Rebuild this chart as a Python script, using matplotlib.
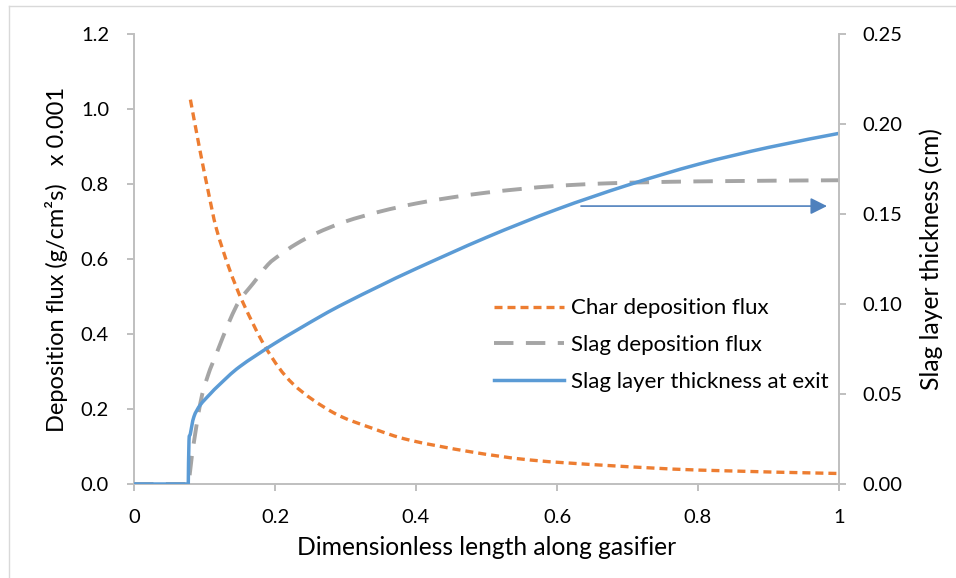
import matplotlib
matplotlib.use("Agg")
import matplotlib.pyplot as plt
from matplotlib.lines import Line2D
from matplotlib.path import Path
from matplotlib.patches import PathPatch

plt.rcParams['font.family'] = ['Lato', 'DejaVu Sans']

# Char deposition flux (left axis, x 0.001 g/cm2s)
char_x = [0.080, 0.093, 0.105, 0.117, 0.135, 0.155, 0.188, 0.226, 0.283,
          0.339, 0.391, 0.477, 0.562, 0.675, 0.803, 1.000]
char_y = [1.025, 0.895, 0.783, 0.680, 0.575, 0.482, 0.360, 0.266, 0.190,
          0.148, 0.117, 0.086, 0.064, 0.049, 0.037, 0.028]

# Slag deposition flux (left axis)
slag_x = [0.000, 0.078, 0.082, 0.094, 0.105, 0.117, 0.136, 0.150, 0.169, 0.190,
          0.207, 0.230, 0.259, 0.300, 0.350, 0.400, 0.450, 0.500, 0.550, 0.600,
          0.675, 0.800, 1.000]
slag_y = [0.000, 0.000, 0.073, 0.215, 0.290, 0.348, 0.437, 0.490, 0.535, 0.585,
          0.611, 0.640, 0.669, 0.700, 0.727, 0.748, 0.764, 0.777, 0.787, 0.795,
          0.802, 0.807, 0.810]

# Slag layer thickness at exit (right axis, cm)
thick_x = [0.000, 0.077, 0.078, 0.080, 0.085, 0.094, 0.108, 0.122, 0.150, 0.200,
           0.264, 0.300, 0.350, 0.400, 0.500, 0.600, 0.700, 0.800, 0.900, 1.000]
thick_y = [0.000, 0.000, 0.024, 0.028, 0.0374, 0.0439, 0.050, 0.0555, 0.0652, 0.0782,
           0.0930, 0.1006, 0.1103, 0.1196, 0.1370, 0.1526, 0.1660, 0.1776, 0.1870, 0.1948]

x_ticks = [0, 0.2, 0.4, 0.6, 0.8, 1.0]
x_tick_labels = ["0", "0.2", "0.4", "0.6", "0.8", "1"]
left_ticks = [0.0, 0.2, 0.4, 0.6, 0.8, 1.0, 1.2]
right_ticks = [0.00, 0.05, 0.10, 0.15, 0.20, 0.25]

ORANGE = "#ED7D31"
GRAY = "#A5A5A5"
BLUE = "#5B9BD5"
AXIS = "#BFBFBF"
TEXT = "#000000"
FS_TICK = 14.5
FS_LEG = 16
FS_XTITLE = 17.7
FS_YTITLE = 17.0


def smooth_path(xs, ys):
    """Smoothed line through the points (cubic Bezier, Catmull-Rom style).
    A flat run of zeros at the start is kept straight."""
    pts = list(zip(xs, ys))
    k = 0
    while k < len(pts) and pts[k][1] == 0:
        k += 1
    if k >= 2:
        verts = [pts[0], pts[k - 1]]
        codes = [Path.MOVETO, Path.LINETO]
        seg = pts[k - 1:]
    else:
        seg = pts
        verts = [seg[0]]
        codes = [Path.MOVETO]
    n = len(seg)
    for i in range(n - 1):
        p0 = seg[i - 1] if i > 0 else seg[i]
        p1 = seg[i]
        p2 = seg[i + 1]
        p3 = seg[i + 2] if i + 2 < n else seg[i + 1]
        c1 = (p1[0] + (p2[0] - p0[0]) / 6, p1[1] + (p2[1] - p0[1]) / 6)
        c2 = (p2[0] - (p3[0] - p1[0]) / 6, p2[1] - (p3[1] - p1[1]) / 6)
        verts += [c1, c2, p2]
        codes += [Path.CURVE4] * 3
    return Path(verts, codes)


W, H = 956, 578
fig = plt.figure(figsize=(W / 100, H / 100), dpi=100)
fig.patch.set_facecolor("white")

# outer chart frame
fig.add_artist(Line2D([8.5 / W, 8.5 / W], [0, 1 - 5.5 / H], color="#D9D9D9", lw=1.0,
                      transform=fig.transFigure))
fig.add_artist(Line2D([8.5 / W, 1], [1 - 5.5 / H, 1 - 5.5 / H], color="#D9D9D9", lw=1.0,
                      transform=fig.transFigure))

ax = fig.add_axes([134 / W, 94 / H, 705 / W, 450 / H])
ax.set_xlim(0, 1)
ax.set_ylim(0, 1.2)
ax2 = ax.twinx()
ax2.set_ylim(0, 0.25)

char_style = dict(color=ORANGE, lw=2.4, dashes=(2.4, 1.5))
slag_style = dict(color=GRAY, lw=2.8, dashes=(5.0, 3.2))
thick_style = dict(color=BLUE, lw=2.5)

ax.add_patch(PathPatch(smooth_path(char_x, char_y), fill=False, edgecolor=ORANGE,
                       lw=2.4, linestyle=(0, (2.4, 1.5)), capstyle="butt"))
ax.add_patch(PathPatch(smooth_path(slag_x, slag_y), fill=False, edgecolor=GRAY,
                       lw=2.8, linestyle=(0, (5.0, 3.2)), capstyle="butt"))
ax2.add_patch(PathPatch(smooth_path(thick_x, thick_y), fill=False, edgecolor=BLUE,
                        lw=2.5, joinstyle="round"))

h_char = Line2D([], [], label="Char deposition flux", **char_style)
h_slag = Line2D([], [], label="Slag deposition flux", **slag_style)
h_thick = Line2D([], [], label="Slag layer thickness at exit", **thick_style)

for a in (ax, ax2):
    for s in a.spines.values():
        s.set_color(AXIS)
        s.set_linewidth(1.4)
    a.spines["top"].set_visible(False)
ax.spines["right"].set_visible(False)
ax2.spines["left"].set_visible(False)
ax2.spines["bottom"].set_visible(False)

ax.set_xticks(x_ticks)
ax.set_xticklabels(x_tick_labels)
ax.set_yticks(left_ticks)
ax.set_yticklabels([f"{v:.1f}" for v in left_ticks])
ax2.set_yticks(right_ticks)
ax2.set_yticklabels([f"{v:.2f}" for v in right_ticks])

ax.tick_params(axis="x", direction="out", length=5, width=1.4, color=AXIS,
               labelsize=FS_TICK, labelcolor=TEXT, pad=13)
ax.tick_params(axis="y", direction="out", length=5, width=1.4, color=AXIS,
               labelsize=FS_TICK, labelcolor=TEXT, pad=13)
ax2.tick_params(axis="y", direction="out", length=5, width=1.4, color=AXIS,
                labelsize=FS_TICK, labelcolor=TEXT, pad=12)

ax.set_xlabel("Dimensionless length along gasifier", fontsize=FS_XTITLE, color=TEXT,
              labelpad=7.5)
ax.set_ylabel("Deposition flux (g/cm²s)   x 0.001", fontsize=FS_YTITLE, color=TEXT,
              labelpad=9)
ax2.set_ylabel("Slag layer thickness (cm)", fontsize=FS_XTITLE, color=TEXT, labelpad=12)

# pointer arrows to the axes each curve belongs to
arrow = "-|>,head_length=1.0,head_width=0.5"
ax.annotate("", xy=(-0.006, 0.680), xytext=(0.117, 0.680),
            arrowprops=dict(arrowstyle=arrow, color="#C0504D", lw=1.2,
                            mutation_scale=10, shrinkA=0, shrinkB=0))
ax.annotate("", xy=(-0.003, 0.347), xytext=(0.117, 0.347),
            arrowprops=dict(arrowstyle=arrow, color="#9BBB59", lw=1.2,
                            mutation_scale=10, shrinkA=0, shrinkB=0))
ax2.annotate("", xy=(0.983, 0.1544), xytext=(0.634, 0.1544),
             arrowprops=dict(arrowstyle=arrow, color="#4F81BD", lw=1.2,
                             mutation_scale=10, shrinkA=0, shrinkB=0))

leg = ax2.legend(handles=[h_char, h_slag, h_thick], loc="upper left",
                 bbox_to_anchor=(494 / W, 1 - 298.5 / H), bbox_transform=fig.transFigure,
                 frameon=False, fontsize=FS_LEG, handlelength=3.15, handletextpad=0.3,
                 labelspacing=0.75, borderpad=0, borderaxespad=0)
for t in leg.get_texts():
    t.set_color(TEXT)

fig.savefig("out.png", dpi=100, facecolor="white")
